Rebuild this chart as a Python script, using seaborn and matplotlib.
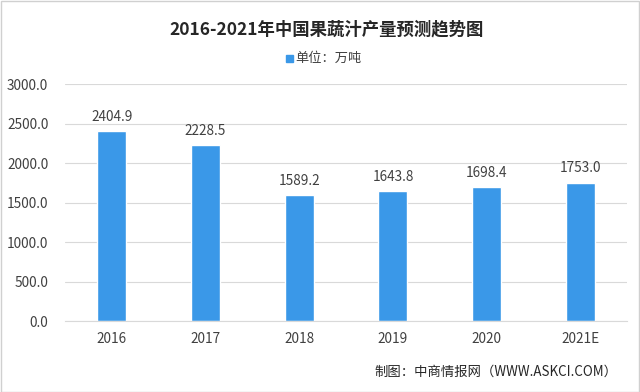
import matplotlib
matplotlib.use("Agg")
import matplotlib.pyplot as plt
import seaborn as sns
import pandas as pd
from matplotlib.patches import Rectangle

# ----------------------------
# Data
# ----------------------------
YEARS = ['2016', '2017', '2018', '2019', '2020', '2021E']
OUTPUT = [2404.9, 2228.5, 1589.2, 1643.8, 1698.4, 1753.0]
Y_TICKS = [0, 500, 1000, 1500, 2000, 2500, 3000]

BAR_COLOR = "#3A98E8"
GRID_COLOR = "#D9D9D9"
TEXT_COLOR = "#404040"

sns.set_theme(style="white")
plt.rcParams['font.family'] = ['Noto Sans CJK SC', 'DejaVu Sans']

df = pd.DataFrame({'year': YEARS, 'value': OUTPUT})

fig = plt.figure(figsize=(6.4, 3.92), dpi=100)
ax = fig.add_axes([0.1016, 0.181, 0.8784, 0.6047])

sns.barplot(
    data=df,
    x='year',
    y='value',
    color=BAR_COLOR,
    width=0.31,
    saturation=1,
    ax=ax,
)

ax.set_ylim(0, 3000)
ax.set_xlim(-0.5, len(YEARS) - 0.5)
ax.set_yticks(Y_TICKS)
ax.set_yticklabels([f"{v:.1f}" for v in Y_TICKS], fontsize=9.8, color=TEXT_COLOR)
ax.set_xticks(range(len(YEARS)))
ax.set_xticklabels(YEARS, fontsize=9.8, color=TEXT_COLOR)
ax.tick_params(axis='both', length=0, pad=12)
ax.tick_params(axis='x', pad=8)
ax.set_xlabel("")
ax.set_ylabel("")

ax.grid(axis='y', color=GRID_COLOR, linewidth=0.8)
ax.set_axisbelow(True)
for side in ['top', 'right', 'left']:
    ax.spines[side].set_visible(False)
ax.spines['bottom'].set_color(GRID_COLOR)
ax.spines['bottom'].set_linewidth(0.8)

for p, v in zip(ax.patches, OUTPUT):
    ax.text(
        p.get_x() + p.get_width() / 2,
        p.get_height() + 90,
        f"{v:.1f}",
        ha='center',
        va='bottom',
        fontsize=9.8,
        color=TEXT_COLOR,
    )

# title + legend-like unit label
fig.text(0.51, 0.926, "2016-2021年中国果蔬汁产量预测趋势图",
         ha='center', va='center', fontsize=12.5, fontweight='bold', color="#262626")
fig.patches.append(Rectangle((0.447, 0.843), 0.0105, 0.017,
                             transform=fig.transFigure, color=BAR_COLOR))
fig.text(0.461, 0.852, "单位：万吨", ha='left', va='center',
         fontsize=9.5, color=TEXT_COLOR)

# source note
fig.text(0.965, 0.053, "制图：中商情报网（WWW.ASKCI.COM）", ha='right', va='center',
         fontsize=9.6, color="#262626")

# thin frame around the picture
fig.patches.append(Rectangle((0.001, 0.001), 0.998, 0.997, transform=fig.transFigure,
                             fill=False, edgecolor="#D0D0D0", linewidth=1))

fig.savefig("out.png", dpi=100)
